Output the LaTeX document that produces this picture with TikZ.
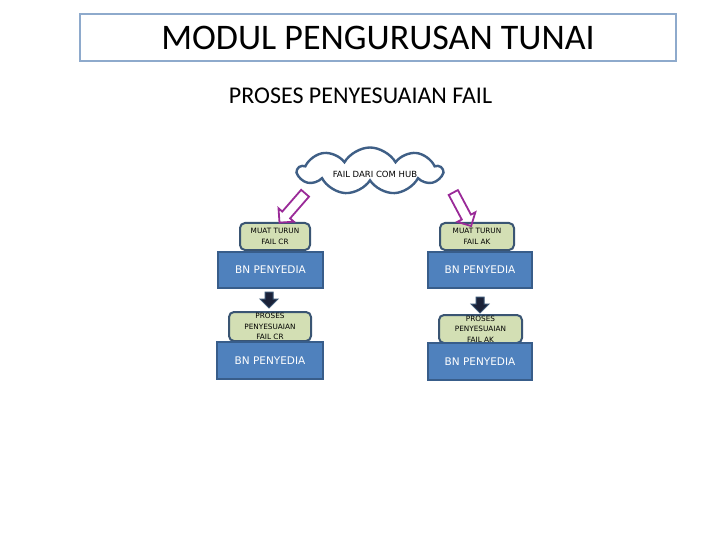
\documentclass[tikz,border=0pt]{standalone}
\usepackage{fontspec}
\setmainfont{Carlito}
\newfontfamily\verd{DejaVu Sans}
\usetikzlibrary{shapes.symbols,shapes.arrows}
\definecolor{titleline}{HTML}{8EAACC}
\definecolor{bluefill}{HTML}{4F81BD}
\definecolor{blueline}{HTML}{385D8A}
\definecolor{greenfill}{HTML}{D3DFB4}
\definecolor{darkline}{HTML}{3A5573}
\definecolor{cloudline}{HTML}{3F5F86}
\definecolor{arrowpurple}{HTML}{9A2A98}
\definecolor{navy}{HTML}{1B2238}
\tikzset{
  titlebox/.style={draw=titleline,line width=2pt,minimum width=596pt,minimum height=47pt,inner sep=0pt,font=\fontsize{36}{40}\selectfont},
  bluebox/.style={draw=blueline,fill=bluefill,line width=2.4pt,inner sep=0pt,text=white,font=\verd\fontsize{10.5}{12}\selectfont},
  greenbox/.style={draw=darkline,fill=greenfill,line width=2pt,rounded corners=5pt,inner sep=0pt,align=center,font=\verd\fontsize{7.3}{10.5}\selectfont},
  hollowarrow/.style={single arrow,draw=arrowpurple,line width=1.8pt,inner sep=4.3pt,single arrow head extend=5pt,minimum height=39pt},
  downarrow/.style={single arrow,draw=darkline,fill=navy,line width=1pt,inner sep=3.5pt,single arrow head extend=5pt,minimum height=16pt,rotate=-90},
}
\begin{document}
\begin{tikzpicture}[x=1pt,y=-1pt]
\useasboundingbox (0,0) rectangle (720,540);
\node[titlebox] (title) at (378,37.5) {MODUL PENGURUSAN TUNAI};
\node[font=\fontsize{24}{28}\selectfont] (sub) at (360.5,96) {PROSES PENYESUAIAN FAIL};
\node[cloud,cloud puffs=9,cloud puff arc=120,aspect=3,draw=cloudline,fill=white,line width=2.4pt,minimum width=144pt,minimum height=47pt,inner sep=0pt,
  label={[font=\verd\fontsize{8.5}{9}\selectfont,xshift=5pt,yshift=-3pt]center:FAIL DARI COM HUB}] (hub) at (370,171) {};
% left column
\node[greenbox,minimum width=70pt,minimum height=27pt] (m1) at (275,236.5) {MUAT TURUN\\FAIL CR};
\node[bluebox,minimum width=105pt,minimum height=36pt] (b1) at (270.5,270) {BN PENYEDIA};
\node[downarrow] (d1) at (269,298) {};
\node[greenbox,minimum width=82pt,minimum height=29pt] (p1) at (270,326.5) {PROSES\\PENYESUAIAN\\FAIL CR};
\node[bluebox,minimum width=106pt,minimum height=37pt] (b2) at (270,360.5) {BN PENYEDIA};
% right column
\node[greenbox,minimum width=74pt,minimum height=27pt] (m2) at (477,236.5) {MUAT TURUN\\FAIL AK};
\node[bluebox,minimum width=104pt,minimum height=36pt] (b3) at (480,270) {BN PENYEDIA};
\node[downarrow] (d2) at (480,303) {};
\node[greenbox,minimum width=83pt,minimum height=28pt] (p2) at (480.5,329) {PROSES\\PENYESUAIAN\\FAIL AK};
\node[bluebox,minimum width=104pt,minimum height=37pt] (b4) at (480,361.5) {BN PENYEDIA};
% hollow arrows from cloud
\node[hollowarrow,rotate=229] (h1) at (294,206) {};
\node[hollowarrow,rotate=298,minimum height=38pt] (h2) at (461,207) {};
\end{tikzpicture}
\end{document}
